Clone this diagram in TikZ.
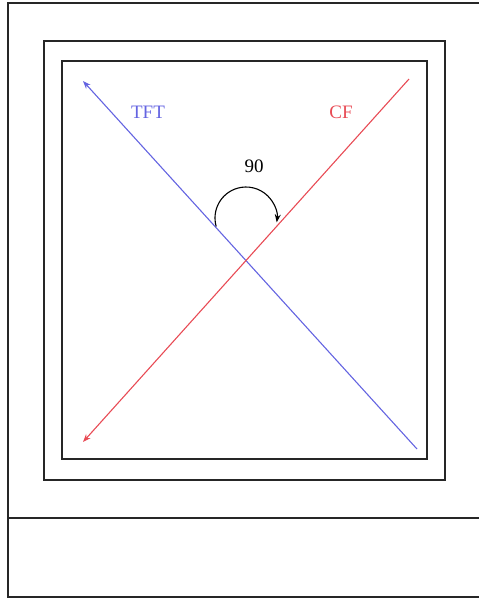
\documentclass[tikz,border=0pt]{standalone}
\usepackage{fontspec}
\setmainfont{Liberation Serif}
\usetikzlibrary{arrows.meta}
\definecolor{tftblue}{RGB}{100,100,225}
\definecolor{cfred}{RGB}{232,75,85}
\tikzset{
  frame/.style={draw=black!85, line width=1.8pt},
  axisline/.style={line width=1.1pt, -{Stealth[length=8pt,width=6pt]}},
  lbl/.style={font=\fontsize{19}{19}\selectfont, inner sep=0pt}
}
\begin{document}
\begin{tikzpicture}[x=1pt,y=-1pt]
\useasboundingbox (0,0) rectangle (479,598);
% outer frame (open on the right)
\draw[frame] (479,3) -- (8,3) -- (8,597) -- (479,597);
\draw[frame] (8,518) -- (479,518);
% middle and inner rectangles
\draw[frame] (44,41) rectangle (445,480);
\draw[frame] (62,61) rectangle (427,459);
% lines
\coordinate (b0) at (417,449);
\coordinate (b1) at (83,81);
\coordinate (r0) at (409,79);
\coordinate (r1) at (83,442);
\draw[axisline, tftblue] (b0) -- (b1);
\draw[axisline, cfred] (r0) -- (r1);
% labels
\node[lbl, text=tftblue] (tft) at (148,112) {TFT};
\node[lbl, text=cfred] (cf) at (341,112) {CF};
\node[lbl, text=black] (ang) at (254,166) {90};
% angle arc
\coordinate (ac) at (246,218);
\draw[line width=1.1pt, -{Stealth[length=8pt,width=6pt]}]
  ([shift={(164:31)}]ac) arc[start angle=164, end angle=368, radius=31];
\end{tikzpicture}
\end{document}
